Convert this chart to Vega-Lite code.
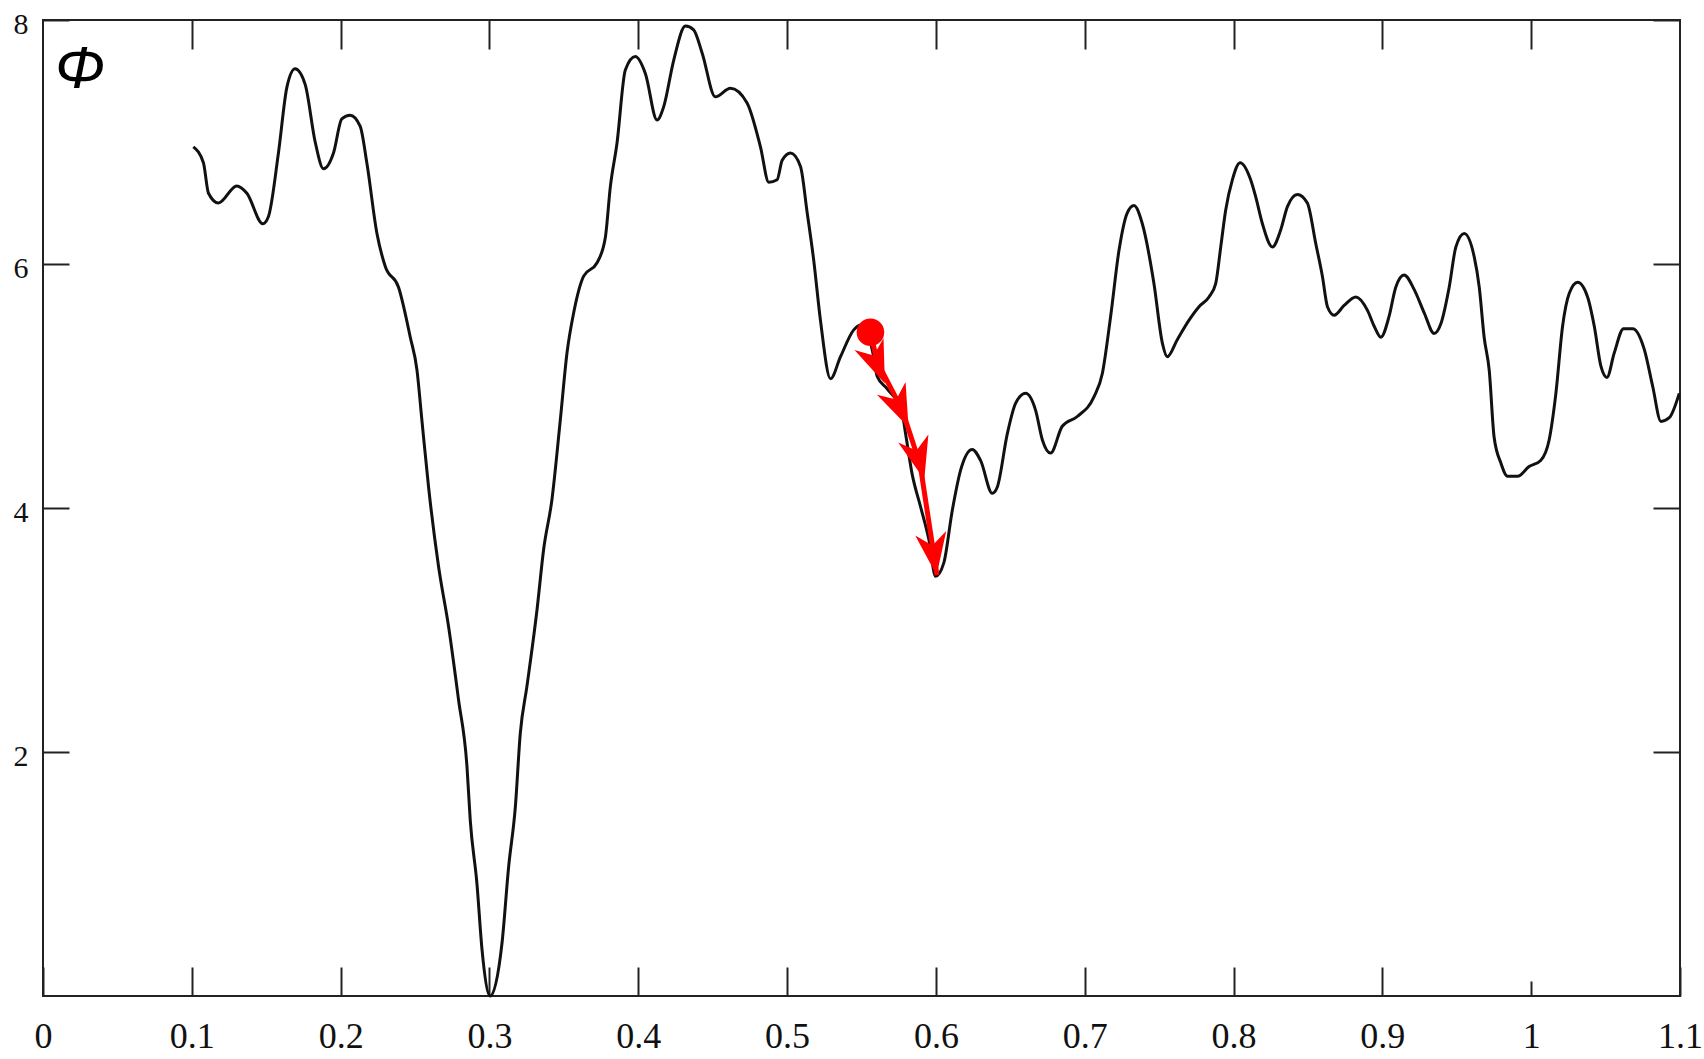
{
  "$schema": "https://vega.github.io/schema/vega-lite/v6.json",
  "width": 1637,
  "height": 976,
  "autosize": {"type": "none"},
  "padding": {"left": 43, "top": 20, "right": 24, "bottom": 63},
  "background": "white",
  "config": {
    "view": {"stroke": "#222", "strokeWidth": 2},
    "axis": {"domain": false, "grid": false, "labelFont": "Liberation Serif", "labelColor": "#111", "tickColor": "#222", "tickWidth": 2, "title": null}
  },
  "datasets": {
    "curve": [
      {"x": 0.101, "y": 6.96}, {"x": 0.1078, "y": 6.83}, {"x": 0.1112, "y": 6.58}, {"x": 0.1179, "y": 6.5},
      {"x": 0.1302, "y": 6.64}, {"x": 0.137, "y": 6.58}, {"x": 0.1477, "y": 6.33}, {"x": 0.1515, "y": 6.39},
      {"x": 0.1582, "y": 6.91}, {"x": 0.1639, "y": 7.45}, {"x": 0.1694, "y": 7.6}, {"x": 0.1762, "y": 7.47},
      {"x": 0.1829, "y": 7.0}, {"x": 0.1885, "y": 6.78}, {"x": 0.1952, "y": 6.91}, {"x": 0.2008, "y": 7.19},
      {"x": 0.2064, "y": 7.22}, {"x": 0.2131, "y": 7.13}, {"x": 0.2176, "y": 6.83}, {"x": 0.2244, "y": 6.25},
      {"x": 0.23, "y": 5.98}, {"x": 0.2389, "y": 5.81}, {"x": 0.2468, "y": 5.4}, {"x": 0.2513, "y": 5.13},
      {"x": 0.2546, "y": 4.72}, {"x": 0.2591, "y": 4.17}, {"x": 0.2658, "y": 3.52}, {"x": 0.2725, "y": 3.03},
      {"x": 0.2792, "y": 2.43}, {"x": 0.2849, "y": 1.88}, {"x": 0.2871, "y": 1.44}, {"x": 0.2916, "y": 0.92},
      {"x": 0.295, "y": 0.38}, {"x": 0.3005, "y": 0.0}, {"x": 0.3084, "y": 0.43}, {"x": 0.3129, "y": 1.06},
      {"x": 0.3174, "y": 1.55}, {"x": 0.3207, "y": 2.15}, {"x": 0.3252, "y": 2.54}, {"x": 0.3319, "y": 3.16},
      {"x": 0.3364, "y": 3.66}, {"x": 0.342, "y": 4.07}, {"x": 0.3476, "y": 4.72}, {"x": 0.3521, "y": 5.27},
      {"x": 0.3566, "y": 5.6}, {"x": 0.3633, "y": 5.9}, {"x": 0.3723, "y": 6.01}, {"x": 0.3779, "y": 6.22},
      {"x": 0.3812, "y": 6.63}, {"x": 0.3857, "y": 6.99}, {"x": 0.3913, "y": 7.59}, {"x": 0.398, "y": 7.7},
      {"x": 0.4048, "y": 7.56}, {"x": 0.4126, "y": 7.18}, {"x": 0.4171, "y": 7.29}, {"x": 0.4238, "y": 7.67},
      {"x": 0.4317, "y": 7.95}, {"x": 0.4372, "y": 7.92}, {"x": 0.4429, "y": 7.73}, {"x": 0.4518, "y": 7.37},
      {"x": 0.4619, "y": 7.44}, {"x": 0.4731, "y": 7.32}, {"x": 0.4821, "y": 6.96}, {"x": 0.4877, "y": 6.67},
      {"x": 0.4933, "y": 6.69}, {"x": 0.4967, "y": 6.85}, {"x": 0.5023, "y": 6.91}, {"x": 0.509, "y": 6.8},
      {"x": 0.5135, "y": 6.42}, {"x": 0.5179, "y": 6.03}, {"x": 0.5224, "y": 5.54}, {"x": 0.5292, "y": 5.06},
      {"x": 0.5359, "y": 5.24}, {"x": 0.5448, "y": 5.46}, {"x": 0.55, "y": 5.5}, {"x": 0.553, "y": 5.47},
      {"x": 0.558, "y": 5.25}, {"x": 0.5605, "y": 5.08}, {"x": 0.567, "y": 4.98}, {"x": 0.5773, "y": 4.78},
      {"x": 0.5796, "y": 4.61}, {"x": 0.584, "y": 4.28}, {"x": 0.5897, "y": 4.01}, {"x": 0.5953, "y": 3.74},
      {"x": 0.5998, "y": 3.44}, {"x": 0.6053, "y": 3.55}, {"x": 0.611, "y": 3.98}, {"x": 0.6166, "y": 4.31},
      {"x": 0.6244, "y": 4.48}, {"x": 0.63, "y": 4.39}, {"x": 0.6379, "y": 4.12}, {"x": 0.6412, "y": 4.17},
      {"x": 0.648, "y": 4.61}, {"x": 0.6536, "y": 4.86}, {"x": 0.6603, "y": 4.94}, {"x": 0.667, "y": 4.8},
      {"x": 0.6715, "y": 4.56}, {"x": 0.6771, "y": 4.45}, {"x": 0.6849, "y": 4.67}, {"x": 0.695, "y": 4.75},
      {"x": 0.7062, "y": 4.91}, {"x": 0.7118, "y": 5.1}, {"x": 0.7174, "y": 5.57}, {"x": 0.723, "y": 6.11},
      {"x": 0.7286, "y": 6.42}, {"x": 0.7331, "y": 6.48}, {"x": 0.7387, "y": 6.33}, {"x": 0.7465, "y": 5.84},
      {"x": 0.7522, "y": 5.35}, {"x": 0.7555, "y": 5.24}, {"x": 0.7622, "y": 5.38}, {"x": 0.7701, "y": 5.54},
      {"x": 0.7768, "y": 5.65}, {"x": 0.7835, "y": 5.73}, {"x": 0.788, "y": 5.84}, {"x": 0.7914, "y": 6.14},
      {"x": 0.7947, "y": 6.44}, {"x": 0.7992, "y": 6.69}, {"x": 0.8044, "y": 6.83}, {"x": 0.8115, "y": 6.69},
      {"x": 0.8149, "y": 6.55}, {"x": 0.8194, "y": 6.33}, {"x": 0.8261, "y": 6.14}, {"x": 0.8317, "y": 6.28},
      {"x": 0.8362, "y": 6.47}, {"x": 0.8429, "y": 6.57}, {"x": 0.8496, "y": 6.5}, {"x": 0.8552, "y": 6.17},
      {"x": 0.8597, "y": 5.9}, {"x": 0.8631, "y": 5.65}, {"x": 0.8676, "y": 5.58}, {"x": 0.8743, "y": 5.66},
      {"x": 0.8822, "y": 5.73}, {"x": 0.89, "y": 5.62}, {"x": 0.8945, "y": 5.49}, {"x": 0.899, "y": 5.4},
      {"x": 0.9045, "y": 5.57}, {"x": 0.909, "y": 5.81}, {"x": 0.9146, "y": 5.91}, {"x": 0.9214, "y": 5.79},
      {"x": 0.9281, "y": 5.6}, {"x": 0.9348, "y": 5.43}, {"x": 0.9393, "y": 5.51}, {"x": 0.9449, "y": 5.81},
      {"x": 0.9494, "y": 6.14}, {"x": 0.955, "y": 6.25}, {"x": 0.9617, "y": 6.06}, {"x": 0.9651, "y": 5.81},
      {"x": 0.9684, "y": 5.4}, {"x": 0.9718, "y": 5.13}, {"x": 0.9751, "y": 4.58}, {"x": 0.9796, "y": 4.37},
      {"x": 0.9841, "y": 4.26}, {"x": 0.9908, "y": 4.26}, {"x": 0.9986, "y": 4.34}, {"x": 1.0064, "y": 4.39},
      {"x": 1.0121, "y": 4.56}, {"x": 1.0166, "y": 4.94}, {"x": 1.0211, "y": 5.49}, {"x": 1.0256, "y": 5.76},
      {"x": 1.0312, "y": 5.85}, {"x": 1.0379, "y": 5.73}, {"x": 1.0424, "y": 5.49}, {"x": 1.0469, "y": 5.16},
      {"x": 1.0509, "y": 5.07}, {"x": 1.0558, "y": 5.27}, {"x": 1.0621, "y": 5.47}, {"x": 1.0682, "y": 5.47},
      {"x": 1.076, "y": 5.3}, {"x": 1.0816, "y": 5.0}, {"x": 1.0872, "y": 4.71}, {"x": 1.0928, "y": 4.74},
      {"x": 1.0995, "y": 4.94}
    ],
    "arrow": [
      {"i": 0, "x": 0.556, "y": 5.44},
      {"i": 1, "x": 0.5605, "y": 5.2},
      {"i": 2, "x": 0.5775, "y": 4.8},
      {"i": 3, "x": 0.5895, "y": 4.35},
      {"i": 4, "x": 0.6007, "y": 3.45}
    ],
    "heads": [
      {"x": 0.5601, "y": 5.19, "heading": -22},
      {"x": 0.5755, "y": 4.83, "heading": -24},
      {"x": 0.5883, "y": 4.41, "heading": -15},
      {"x": 0.5984, "y": 3.63, "heading": -8}
    ],
    "start": [{"x": 0.556, "y": 5.44}],
    "label": [{"x": 0.0249, "y": 7.59, "t": "Φ"}]
  },
  "resolve": {"axis": {"x": "independent", "y": "independent"}},
  "layer": [
    {
      "data": {"name": "curve"},
      "mark": {"type": "line", "color": "#111", "strokeWidth": 3, "interpolate": "monotone"},
      "encoding": {
        "x": {"field": "x", "type": "quantitative",
              "scale": {"domain": [0, 1.1], "nice": false, "zero": false},
              "axis": {"orient": "bottom", "values": [0, 0.1, 0.2, 0.3, 0.4, 0.5, 0.6, 0.7, 0.8, 0.9, 1, 1.1],
                       "format": "~g", "tickSize": {"condition": {"test": "datum.value == 1", "value": -15}, "value": -29},
                       "labelPadding": {"condition": {"test": "datum.value == 1", "value": 38}, "value": 52},
                       "labelFontSize": 36, "labelFlush": false, "labelOverlap": false}},
        "y": {"field": "y", "type": "quantitative",
              "scale": {"domain": [0, 8], "nice": false, "zero": false},
              "axis": {"orient": "left", "values": [2, 4, 6, 8], "tickSize": -26, "labelPadding": 41,
                       "labelFontSize": 30, "labelOffset": 4, "labelFlush": false, "labelOverlap": false}}
      }
    },
    {
      "data": {"name": "arrow"},
      "mark": {"type": "line", "color": "#ff0000", "strokeWidth": 5},
      "encoding": {
        "x": {"field": "x", "type": "quantitative",
              "axis": {"orient": "top", "values": [0.1, 0.2, 0.3, 0.4, 0.5, 0.6, 0.7, 0.8, 0.9, 1], "labels": false, "tickSize": -29}},
        "y": {"field": "y", "type": "quantitative",
              "axis": {"orient": "right", "values": [2, 4, 6, 8], "labels": false, "tickSize": -27}},
        "order": {"field": "i", "type": "quantitative"}
      }
    },
    {
      "data": {"name": "heads"},
      "mark": {"type": "point", "shape": "M0,1L-0.7,-0.9L0,-0.35L0.7,-0.9Z", "filled": true, "color": "#ff0000", "opacity": 1, "size": 2000},
      "encoding": {
        "x": {"field": "x", "type": "quantitative", "axis": null},
        "y": {"field": "y", "type": "quantitative", "axis": null},
        "angle": {"field": "heading", "type": "quantitative", "scale": null}
      }
    },
    {
      "data": {"name": "start"},
      "mark": {"type": "circle", "color": "#ff0000", "opacity": 1, "size": 760},
      "encoding": {
        "x": {"field": "x", "type": "quantitative", "axis": null},
        "y": {"field": "y", "type": "quantitative", "axis": null}
      }
    },
    {
      "data": {"name": "label"},
      "mark": {"type": "text", "font": "Liberation Sans", "fontStyle": "italic", "fontSize": 60, "align": "center", "baseline": "middle", "color": "#000"},
      "encoding": {
        "x": {"field": "x", "type": "quantitative", "axis": null},
        "y": {"field": "y", "type": "quantitative", "axis": null},
        "text": {"field": "t"}
      }
    }
  ]
}
